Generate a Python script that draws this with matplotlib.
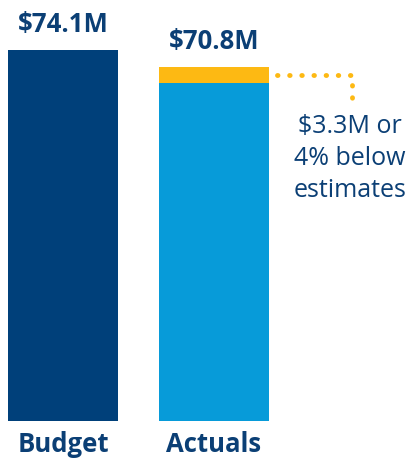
import matplotlib
matplotlib.use('Agg')
import matplotlib.pyplot as plt

categories = ['Budget', 'Actuals']
totals = [74.1, 70.8]
shortfall = 3.3
value_labels = ['$74.1M', '$70.8M']
note = '$3.3M or\n4% below\nestimates'

navy = '#00407a'
sky = '#079bd9'
gold = '#fdb913'
text_blue = '#0b3f75'

plt.rcParams['font.family'] = ['Open Sans', 'DejaVu Sans']

fig = plt.figure(figsize=(4.10, 4.59), dpi=100)
ax = fig.add_axes([0, 38 / 459, 1, 421 / 459])

x = [0, 1]
width = 0.728
ax.bar(x[0], totals[0], width=width, color=navy)
ax.bar(x[1], totals[1] - shortfall, width=width, color=sky)
ax.bar(x[1], shortfall, width=width, bottom=totals[1] - shortfall, color=gold)

for xi, total, lab in zip(x, totals, value_labels):
    ax.text(xi, total + 2.4, lab, ha='center', va='bottom', fontsize=18.5,
            fontweight='bold', color=text_blue)

for xi, cat in zip(x, categories):
    ax.text(xi, -2.0, cat, ha='center', va='top', fontsize=18.5,
            fontweight='bold', color=text_blue)

# dotted connector from the gold segment to the note
y_mid = totals[1] - shortfall / 2
ax.plot([1.42, 1.915, 1.915], [y_mid, y_mid, 63.8], color=gold, lw=3.5,
        linestyle=(0, (0.1, 2.4)), dash_capstyle='round', solid_capstyle='round')
ax.text(1.90, 61.4, note, ha='center', va='top', fontsize=18,
        color=text_blue, linespacing=1.38)

ax.set_xlim(-63 / 151, 347 / 151)
ax.set_ylim(0, 74.1 * 421 / 371)
ax.axis('off')

fig.savefig('out.png', dpi=100)
